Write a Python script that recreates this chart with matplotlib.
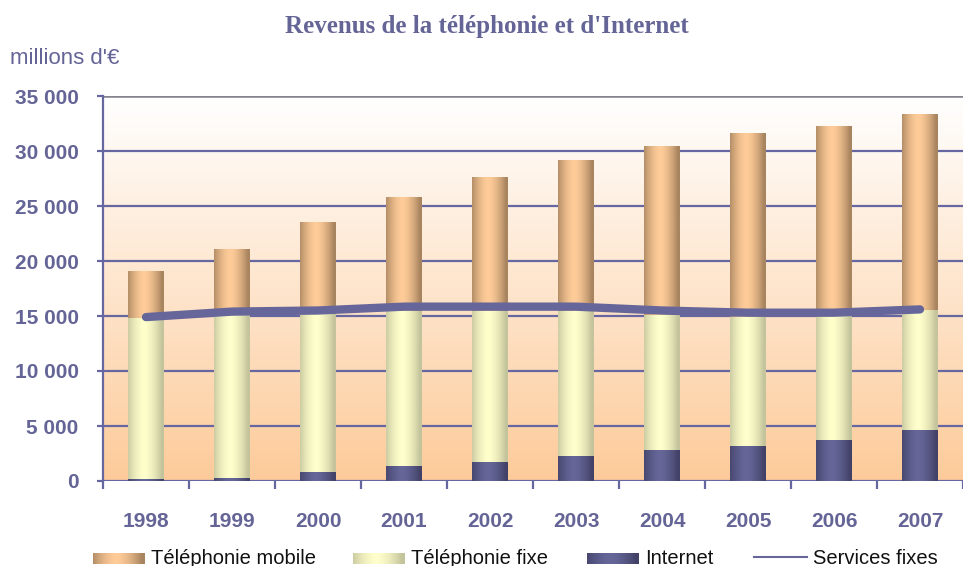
import numpy as np
import matplotlib
matplotlib.use("Agg")
import matplotlib.pyplot as plt
from matplotlib.colors import to_rgb

# values in millions of euros
years = ['1998', '1999', '2000', '2001', '2002', '2003', '2004', '2005', '2006', '2007']
internet = [150, 270, 800, 1360, 1730, 2270, 2800, 3200, 3730, 4640]
fixe_top = [14850, 15100, 15150, 15450, 15450, 15450, 15100, 14900, 14970, 15550]
total = [19100, 21100, 23450, 25800, 27600, 29100, 30400, 31600, 32200, 33300]
services_fixes = [14900, 15400, 15500, 15850, 15850, 15850, 15500, 15300, 15300, 15600]

fixe = [f - i for f, i in zip(fixe_top, internet)]
mobile = [t - f for t, f in zip(total, fixe_top)]

labels = ['Téléphonie mobile', 'Téléphonie fixe', 'Internet', 'Services fixes']
shades = {  # (edge, centre)
    'mobile': ('#A8845F', '#FFCC99'),
    'fixe': ('#C4C49C', '#FFFFCC'),
    'internet': ('#424268', '#666699'),
}
txt = '#646496'
grid_c = '#6666A0'


def hgrad(edge, centre, n=64):
    t = np.linspace(0, 1, n)
    f = 1 - np.abs(2 * t - 0.9) ** 1.6
    f = np.clip(f, 0, 1)
    e, c = np.array(to_rgb(edge)), np.array(to_rgb(centre))
    return (e[None, :] + (c - e)[None, :] * f[:, None])[None, :, :]


fig = plt.figure(figsize=(9.63, 5.66), dpi=100)
ax = fig.add_axes([103 / 963, 85 / 566, 860 / 963, 385 / 566])
ax.set_facecolor('none')

# plot area background, white to peach
bg = np.linspace(0, 1, 256)[:, None]
top, bot = np.array(to_rgb('#FFFFFF')), np.array(to_rgb('#FDCB9A'))
bgimg = top[None, None, :] + (bot - top)[None, None, :] * bg[:, :, None]
ax.imshow(bgimg, extent=[0, 1, 0, 1], transform=ax.transAxes, aspect='auto', zorder=0)

x = np.arange(len(years))
w = 0.41
b1 = ax.bar(x, internet, w)
b2 = ax.bar(x, fixe, w, bottom=internet)
b3 = ax.bar(x, mobile, w, bottom=fixe_top)
for bars, key in [(b1, 'internet'), (b2, 'fixe'), (b3, 'mobile')]:
    g = hgrad(*shades[key])
    for r in bars:
        r.set_visible(False)
        ax.imshow(g, extent=[r.get_x(), r.get_x() + r.get_width(), r.get_y(), r.get_y() + r.get_height()],
                  aspect='auto', interpolation='bilinear', zorder=2)

ax.plot(x, services_fixes, color='#66669A', lw=6, solid_capstyle='round', solid_joinstyle='round', zorder=3)

ax.set_xlim(-0.5, len(years) - 0.5)
ax.set_ylim(0, 35000)
ax.set_yticks(np.arange(0, 35001, 5000))
ax.set_yticklabels(['0'] + ['{:,}'.format(v).replace(',', ' ') for v in range(5000, 35001, 5000)])
ax.set_xticks(x)
ax.set_xticklabels(years)
ax.set_xticks(np.arange(-0.5, len(years)), minor=True)
ax.yaxis.grid(True, color=grid_c, lw=1.6, zorder=1)
ax.set_axisbelow(True)
ax.axhline(35000, color='#858590', lw=1.8, zorder=1)

for s in ['top', 'right', 'bottom']:
    ax.spines[s].set_visible(False)
ax.spines['left'].set_color(grid_c)
ax.spines['left'].set_linewidth(1.6)
ax.tick_params(axis='y', length=4.5, width=1.6, color=grid_c, pad=13, labelcolor=txt)
ax.tick_params(axis='x', which='major', length=0, pad=22, labelcolor=txt)
ax.tick_params(axis='x', which='minor', length=6, width=1.6, color=grid_c)
for lab in ax.get_yticklabels() + ax.get_xticklabels():
    lab.set_fontfamily('Liberation Sans')
    lab.set_fontweight('bold')
    lab.set_fontsize(15)

fig.text(487 / 963, 1 - 27 / 566, "Revenus de la téléphonie et d'Internet", ha='center', va='center',
         family='Liberation Serif', weight='bold', size=18, color=txt)
fig.text(10 / 963, 1 - 59 / 566, "millions d'€", ha='left', va='center',
         family='Liberation Sans', size=16, color=txt)

# legend strip in pixel coordinates
lg = fig.add_axes([0, 0, 1, 1])
lg.set_xlim(0, 963)
lg.set_ylim(566, 0)
lg.set_axis_off()
lg.patch.set_visible(False)
items = [(93, 'mobile'), (353, 'fixe'), (587, 'internet')]
for (px, key), lab in zip(items, labels[:3]):
    lg.imshow(hgrad(*shades[key]), extent=[px, px + 52, 564, 553], aspect='auto', interpolation='bilinear')
    lg.text(px + 58, 558, lab, ha='left', va='center', family='Liberation Sans', size=14.5, color='#111111')
lg.plot([754, 807], [557, 557], color='#66669A', lw=1.5)
lg.text(813, 558, labels[3], ha='left', va='center', family='Liberation Sans', size=14.5, color='#111111')
lg.set_xlim(0, 963)
lg.set_ylim(566, 0)

fig.savefig('out.png', dpi=100)
